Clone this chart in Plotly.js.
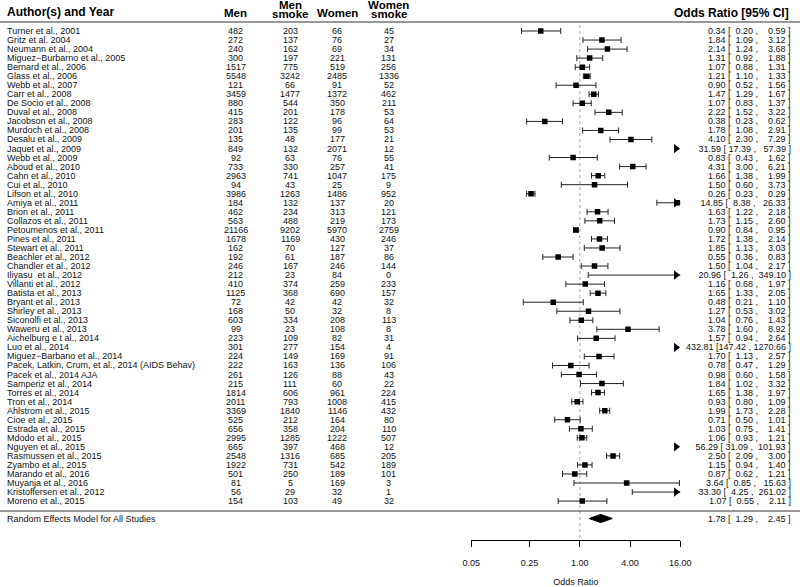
<!DOCTYPE html>
<html><head><meta charset="utf-8">
<script src="https://cdn.plot.ly/plotly-3.0.1.min.js"></script>
<style>html,body{margin:0;padding:0;background:#fff}#chart{width:800px;height:587px}</style>
</head><body><div id="chart"></div>
<script>
const authors = ["Turner et al., 2001","Gritz et al. 2004","Neumann et al., 2004","Miguez\u2212Burbarno et al., 2005","Bernard et al., 2006","Glass et al., 2006","Webb et al., 2007","Carr et al., 2008","De Socio et al., 2008","Duval et al., 2008","Jacobson et al., 2008","Murdoch et al., 2008","Desalu et al., 2009","Jaquet et al., 2009","Webb et al., 2009","Aboud et al., 2010","Cahn et al., 2010","Cui et al., 2010","Lifson et al., 2010","Amiya et al., 2011","Brion et al., 2011","Collazos et al., 2011","Petoumenos et al., 2011","Pines et al., 2011","Stewart et al., 2011","Beachler et al., 2012","Chandler et al., 2012","Iliyasu  et al., 2012","Villanti et al., 2012","Batista et al., 2013","Bryant et al., 2013","Shirley et al., 2013","Siconolfi et al., 2013","Waweru et al., 2013","Aichelburg e t al., 2014","Luo et al., 2014","Miguez\u2212Barbano et al., 2014","Pacek, Latkin, Crum, et al., 2014 (AIDS Behav)","Pacek et al., 2014 AJA","Samperiz et al., 2014","Torres et al., 2014","Tron et al., 2014","Ahlstrom et al., 2015","Cioe et al., 2015","Estrada et al., 2015","Mdodo et al., 2015","Nguyen et al., 2015","Rasmussen et al., 2015","Zyambo et al., 2015","Marando et al., 2016","Muyanja et al., 2016","Kristoffersen et al., 2012","Moreno et al., 2015"];
const men = [482,272,240,300,1517,5548,121,3459,880,415,283,201,135,849,92,733,2963,94,3986,184,462,563,21166,1678,162,192,246,212,410,1125,72,168,603,99,223,301,224,222,261,215,1814,2011,3369,525,656,2995,665,2548,1922,501,81,56,154];
const menSmoke = [203,137,162,197,775,3242,66,1477,544,201,122,135,48,132,63,330,741,43,1263,132,234,488,9202,1169,70,61,167,23,374,368,42,50,334,23,109,277,149,163,126,111,606,793,1840,212,358,1285,397,1316,731,250,5,29,103];
const women = [66,76,69,221,519,2485,91,1372,350,178,96,99,177,2071,76,257,1047,25,1486,137,313,219,5970,430,127,187,246,84,259,690,42,32,208,108,82,154,169,136,88,60,961,1008,1146,164,204,1222,468,685,542,189,169,32,49];
const womenSmoke = [45,27,34,131,256,1336,52,462,211,53,64,53,21,12,55,41,175,9,952,20,121,173,2759,246,37,86,144,0,233,157,32,8,113,8,31,4,91,106,43,22,224,415,432,80,110,507,12,205,189,101,3,1,32];
const orEst = [0.34,1.84,2.14,1.31,1.07,1.21,0.90,1.47,1.07,2.22,0.38,1.78,4.10,31.59,0.83,4.31,1.66,1.50,0.26,14.85,1.63,1.73,0.90,1.72,1.85,0.55,1.50,20.96,1.16,1.65,0.48,1.27,1.04,3.78,1.57,432.81,1.70,0.78,0.98,1.84,1.65,0.93,1.99,0.71,1.03,1.06,56.29,2.50,1.15,0.87,3.64,33.30,1.07];
const ciLower = [0.20,1.09,1.24,0.92,0.88,1.10,0.52,1.29,0.83,1.52,0.23,1.08,2.30,17.39,0.43,3.00,1.38,0.60,0.23,8.38,1.22,1.15,0.84,1.38,1.13,0.36,1.04,1.26,0.68,1.33,0.21,0.53,0.76,1.60,0.94,147.42,1.13,0.47,0.60,1.02,1.38,0.80,1.73,0.50,0.75,0.93,31.09,2.09,0.94,0.62,0.85,4.25,0.55];
const ciUpper = [0.59,3.12,3.68,1.88,1.31,1.33,1.56,1.67,1.37,3.22,0.62,2.91,7.29,57.39,1.62,6.21,1.99,3.73,0.29,26.33,2.18,2.60,0.95,2.14,3.03,0.83,2.17,349.10,1.97,2.05,1.10,3.02,1.43,8.92,2.64,1270.66,2.57,1.29,1.58,3.32,1.97,1.09,2.28,1.01,1.41,1.21,101.93,3.00,1.40,1.21,15.63,261.02,2.11];
const summaryLabel = "Random Effects Model for All Studies";
const summaryEst = 1.78, summaryLower = 1.29, summaryUpper = 2.45;
const tickVals = [0.05,0.25,1,4,16];
const tickLabels = ["0.05","0.25","1.00","4.00","16.00"];
const headers = {author:"Author(s) and Year", men:"Men", menSmoke:["Men","smoke"], women:"Women", womenSmoke:["Women","smoke"], or:"Odds Ratio [95% CI]"};

// ---- layout geometry (pixels) ----
const W = 800, H = 587;
const rowTop = 31, rowStep = 9.04;
const axisPx = 540.3, topPx = 22, bottomLinePx = 511;
const xLeftPx = 471.3, xRightPx = 680.3;
const xMin = tickVals[0], xMax = tickVals[tickVals.length-1];
const rowOf = px => (px - rowTop) / rowStep + 1;
const rows = authors.map((_, i) => i + 1);
const summaryRow = rowOf(518.5);
const pp = px => 1 - px / H;
const FONT = "Liberation Sans, Arial, Helvetica, sans-serif";
const bodySize = 9, headSize = 11.5;

const NB = "\u00A0";
const fmt = v => v.toFixed(2);
const allE = orEst.concat([summaryEst]), allL = ciLower.concat([summaryLower]), allU = ciUpper.concat([summaryUpper]);
const wE = Math.max(...allE.map(v => fmt(v).length));
const wL = Math.max(...allL.map(v => fmt(v).length));
const wU = Math.max(...allU.map(v => fmt(v).length));
const pad = (s, w) => NB.repeat(Math.max(0, w - s.length)) + s;
const annoText = (e, l, u) => pad(fmt(e), wE) + NB + "[" + pad(fmt(l), wL) + NB + "," + NB + pad(fmt(u), wU) + NB + "]";

const traces = [];
traces.push({x:[1,1], y:[rowOf(25), rowOf(538)], mode:"lines", line:{color:"#a8a8a8", width:1, dash:"dot"}, hoverinfo:"skip", showlegend:false});
traces.push({
  x: orEst, y: rows, mode: "markers", type: "scatter",
  marker: {symbol: "square", size: 5.5, color: "#000"},
  error_x: {type: "data", symmetric: false,
    array: orEst.map((e, i) => ciUpper[i] - e),
    arrayminus: orEst.map((e, i) => e - ciLower[i]),
    color: "#222", thickness: 1, width: 3},
  showlegend: false, hoverinfo: "skip"
});
const arrowX = xMax * Math.pow(2, -4.2 / 25);
const arrowRows = rows.filter((r, i) => ciUpper[i] > xMax);
traces.push({x: arrowRows.map(() => arrowX), y: arrowRows, mode: "markers",
  marker: {symbol: "triangle-right", size: 8, color: "#000"}, showlegend:false, hoverinfo:"skip", cliponaxis:false});
const dh = 0.45;
traces.push({x:[summaryLower, summaryEst, summaryUpper, summaryEst, summaryLower],
  y:[summaryRow, summaryRow - dh, summaryRow, summaryRow + dh, summaryRow],
  mode:"lines", fill:"toself", fillcolor:"#000", line:{color:"#000", width:1}, showlegend:false, hoverinfo:"skip"});

const annotations = [];
const addA = (text, xpx, y, anchor, yref, size, color) => annotations.push({
  text, x: xpx / W, xref: "paper", y, yref, xanchor: anchor, yanchor: "middle",
  showarrow: false, font: {family: FONT, size: size || bodySize, color: color || "#111"}, borderpad: 0
});
rows.forEach((r, i) => {
  addA(authors[i], 6, r, "left", "y");
  addA(String(men[i]), 235.5, r, "center", "y");
  addA(String(menSmoke[i]), 290, r, "center", "y");
  addA(String(women[i]), 337, r, "center", "y");
  addA(String(womenSmoke[i]), 388.5, r, "center", "y");
  addA(annoText(orEst[i], ciLower[i], ciUpper[i]), 792, r, "right", "y");
});
addA(summaryLabel, 6, summaryRow, "left", "y");
addA(annoText(summaryEst, summaryLower, summaryUpper), 792, summaryRow, "right", "y");
const hb = t => "<b>" + t + "</b>";
addA(hb(headers.author), 6, pp(12), "left", "paper", 12, "#000");
addA(hb(headers.men), 235.5, pp(13.5), "center", "paper", headSize, "#000");
addA(hb(headers.menSmoke[0]), 290, pp(5.5), "center", "paper", headSize, "#000");
addA(hb(headers.menSmoke[1]), 290, pp(14.5), "center", "paper", headSize, "#000");
addA(hb(headers.women), 337, pp(13.5), "center", "paper", headSize, "#000");
addA(hb(headers.womenSmoke[0]), 388.5, pp(5.5), "center", "paper", headSize, "#000");
addA(hb(headers.womenSmoke[1]), 388.5, pp(14.5), "center", "paper", headSize, "#000");
addA(hb(headers.or), 790, pp(13), "right", "paper", 12, "#000");

const shapes = [
  {type:"line", xref:"paper", yref:"paper", x0:0, x1:1, y0:pp(topPx), y1:pp(topPx), line:{color:"#333", width:1.2}},
  {type:"line", xref:"paper", yref:"paper", x0:0, x1:1, y0:pp(bottomLinePx), y1:pp(bottomLinePx), line:{color:"#333", width:1.2}}
];

const layout = {
  width: W, height: H, margin: {l:0, r:0, t:0, b:0},
  paper_bgcolor: "#fff", plot_bgcolor: "rgba(0,0,0,0)",
  showlegend: false,
  xaxis: {type:"log", domain:[xLeftPx / W, xRightPx / W], range:[Math.log10(xMin), Math.log10(xMax)],
    tickvals: tickVals, ticktext: tickLabels, showgrid:false, zeroline:false,
    showline:true, linecolor:"#000", linewidth:1, ticks:"outside", ticklen:6, tickcolor:"#000", tickwidth:1,
    ticklabelstandoff: 8,
    tickfont:{family:FONT, size:9, color:"#111"},
    title:{text:"Odds Ratio", font:{family:FONT, size:9, color:"#111"}, standoff: 13}, fixedrange:true},
  yaxis: {domain:[pp(axisPx), pp(topPx)], range:[rowOf(axisPx), rowOf(topPx)], showgrid:false, zeroline:false,
    showticklabels:false, showline:false, ticks:"", fixedrange:true},
  annotations, shapes
};
Plotly.newPlot("chart", traces, layout, {displayModeBar:false, staticPlot:true});
</script></body></html>
